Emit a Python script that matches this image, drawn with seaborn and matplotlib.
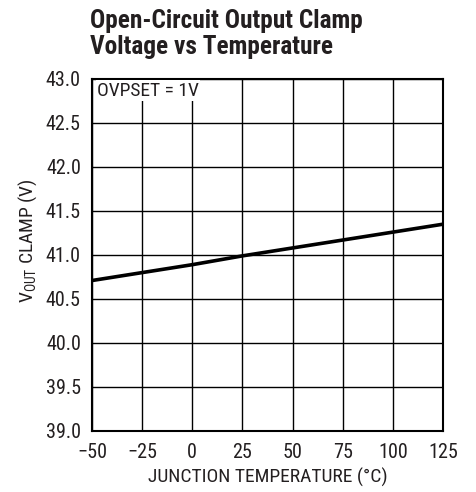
import matplotlib
matplotlib.use("Agg")
import matplotlib.pyplot as plt
import seaborn as sns
import pandas as pd

# data
temperature = [-50, -25, 0, 25, 50, 75, 100, 125]
vout_clamp = [40.71, 40.80, 40.89, 40.99, 41.08, 41.17, 41.26, 41.35]

x_ticks = [-50, -25, 0, 25, 50, 75, 100, 125]
x_labels = ["\u221250", "\u221225", "0", "25", "50", "75", "100", "125"]
y_ticks = [39.0, 39.5, 40.0, 40.5, 41.0, 41.5, 42.0, 42.5, 43.0]

sns.set_theme(style="white")
FONT = ["Roboto Condensed", "Liberation Sans", "DejaVu Sans"]
plt.rcParams["font.family"] = FONT
plt.rcParams["mathtext.fontset"] = "custom"
plt.rcParams["mathtext.rm"] = "Roboto Condensed"
plt.rcParams["mathtext.default"] = "rm"

TXT = "#231f20"

df = pd.DataFrame({"temp": temperature, "vout": vout_clamp})

fig = plt.figure(figsize=(4.77, 4.92), dpi=100)
ax = fig.add_axes([92 / 477, 61 / 492, 351 / 477, 352 / 492])

sns.lineplot(data=df, x="temp", y="vout", ax=ax, color="black", linewidth=2.6)

ax.set_xlim(-50, 125)
ax.set_ylim(39.0, 43.0)
ax.set_xticks(x_ticks)
ax.set_xticklabels(x_labels)
ax.set_yticks(y_ticks)
ax.set_yticklabels([f"{v:.1f}" for v in y_ticks])
ax.grid(True, color="black", linewidth=1.0)
for s in ax.spines.values():
    s.set_color("black")
    s.set_linewidth(1.5)
ax.tick_params(axis="x", labelsize=14.5, length=0, pad=9, colors=TXT)
ax.tick_params(axis="y", labelsize=14.5, length=0, pad=8, colors=TXT)

ax.set_xlabel("JUNCTION TEMPERATURE (\u00b0C)", fontsize=14, color=TXT, labelpad=4)
ax.set_ylabel("V$_{\\mathrm{OUT}}$ CLAMP (V)", fontsize=14, color=TXT)
ax.yaxis.set_label_coords(-0.152, 0.54)

ax.text(-47.5, 42.97, "OVPSET = 1V", fontsize=14, va="top", ha="left", color=TXT,
        bbox=dict(facecolor="white", edgecolor="none", pad=1.0))

fig.text(90 / 477, 1 - 9 / 492, "Open-Circuit Output Clamp\nVoltage vs Temperature",
         fontsize=18.3, fontweight="bold", ha="left", va="top", color=TXT,
         linespacing=1.12)

fig.savefig("out.png", dpi=100)
